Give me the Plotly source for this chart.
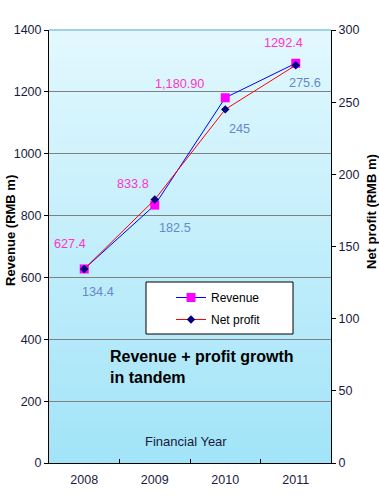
import plotly.graph_objects as go

years = ["2008", "2009", "2010", "2011"]
revenue = [627.4, 833.8, 1180.9, 1292.4]
net_profit = [134.4, 182.5, 245.0, 275.6]
revenue_labels = ["627.4", "833.8", "1,180.90", "1292.4"]
profit_labels = ["134.4", "182.5", "245", "275.6"]

# label offsets (pixels) relative to points - styling only
rev_dx = [-14, -22, -46, -12]
rev_dy = [25, 21, 14, 20]
np_dx = [14, 20, 14, 9]
np_dy = [-23, -28, -20, -18]

FONT = "Liberation Sans, Arial, sans-serif"
INK = "#1a1a40"

W, H = 379, 496
ML, MR, MT, MB = 49, 48, 30, 33

fig = go.Figure()

fig.add_trace(go.Scatter(
    x=years, y=revenue, name="Revenue", mode="lines+markers", legendgroup="a",
    line=dict(color="#0000ff", width=1),
    marker=dict(symbol="square", size=9, color="#ff00ff"),
    yaxis="y",
))
fig.add_trace(go.Scatter(
    x=years, y=net_profit, name="Net profit", mode="lines+markers", legendgroup="b",
    line=dict(color="#ff0000", width=1),
    marker=dict(symbol="diamond", size=6.5, color="#000080"),
    yaxis="y2",
))

shapes = []
# gradient plot background
top = (226, 248, 254)
bot = (162, 228, 248)
n = 60
for i in range(n):
    t = i / (n - 1)
    c = tuple(round(bot[k] + (top[k] - bot[k]) * t) for k in range(3))
    shapes.append(dict(type="rect", xref="x domain", yref="y domain",
                       x0=0, x1=1, y0=i / n, y1=(i + 1) / n + 0.002,
                       fillcolor="rgb(%d,%d,%d)" % c, line=dict(width=0),
                       layer="below"))
# top border of plot area
shapes.append(dict(type="line", xref="x domain", yref="y domain",
                   x0=0, x1=1, y0=1, y1=1,
                   line=dict(color="#5aaccc", width=1), layer="above"))
# legend box
shapes.append(dict(type="rect", xref="paper", yref="paper",
                   x0=97 / 282, x1=244 / 282, y0=129 / 433, y1=181 / 433,
                   fillcolor="white", line=dict(color="black", width=1),
                   layer="above"))

annotations = []
for i in range(len(years)):
    annotations.append(dict(x=i, y=revenue[i], xref="x", yref="y",
                            xanchor="center", yanchor="middle",
                            text=revenue_labels[i], showarrow=False,
                            xshift=rev_dx[i], yshift=rev_dy[i],
                            font=dict(family=FONT, size=12.7, color="#ff33cc")))
    annotations.append(dict(x=i, y=net_profit[i], xref="x", yref="y2",
                            xanchor="center", yanchor="middle",
                            text=profit_labels[i], showarrow=False,
                            xshift=np_dx[i], yshift=np_dy[i],
                            font=dict(family=FONT, size=12.7, color="#6688cc")))

annotations.append(dict(xref="paper", yref="paper", x=(10 - ML) / 282, y=(463 - 231) / 433,
                        xanchor="center", yanchor="middle",
                        text="<b>Revenue (RMB m)</b>", textangle=-90, showarrow=False,
                        font=dict(family=FONT, size=13, color="black")))
annotations.append(dict(xref="paper", yref="paper", x=(372 - ML) / 282, y=(463 - 212) / 433,
                        xanchor="center", yanchor="middle",
                        text="<b>Net profit (RMB m)</b>", textangle=-90, showarrow=False,
                        font=dict(family=FONT, size=13, color="black")))
annotations.append(dict(xref="paper", yref="paper", x=(108 - ML) / 282, y=(463 - 366.5) / 433,
                        xanchor="left", yanchor="middle", align="left",
                        text="<b>Revenue + profit growth<br>in tandem</b>", showarrow=False,
                        font=dict(family=FONT, size=16, color="black")))
annotations.append(dict(xref="paper", yref="paper", x=(185.5 - ML) / 282, y=(463 - 441) / 433,
                        xanchor="center", yanchor="middle",
                        text="Financial Year", showarrow=False,
                        font=dict(family=FONT, size=13, color=INK)))

fig.update_layout(
    width=W, height=H,
    margin=dict(l=ML, r=MR, t=MT, b=MB, pad=0, autoexpand=False),
    paper_bgcolor="white",
    plot_bgcolor="#c8f0fc",
    font=dict(family=FONT, size=12.5, color=INK),
    showlegend=True,
    legend=dict(x=(171 - ML) / 282, y=(463 - 283) / 433, xanchor="left", yanchor="top",
                bgcolor="rgba(0,0,0,0)", borderwidth=0,
                font=dict(family=FONT, size=12, color="black"),
                tracegroupgap=3, itemwidth=30),
    xaxis=dict(type="category", range=[-0.5, 3.5], showgrid=False, automargin=False,
               showline=True, linecolor="black", linewidth=1,
               ticks="inside", tickson="boundaries", ticklen=4, tickcolor="black",
               ticklabelstandoff=5,
               tickfont=dict(family=FONT, size=12.5, color=INK), fixedrange=True),
    yaxis=dict(range=[0, 1400], dtick=200, showgrid=True, gridcolor="#808080", gridwidth=1,
               zeroline=False, showline=True, linecolor="black", linewidth=1, automargin=False,
               ticks="outside", ticklen=4, tickcolor="black",
               tickfont=dict(family=FONT, size=12.5, color=INK)),
    yaxis2=dict(range=[0, 300], dtick=50, overlaying="y", side="right", showgrid=False,
                zeroline=False, showline=True, linecolor="black", linewidth=1, automargin=False,
                ticks="outside", ticklen=4, tickcolor="black",
                tickfont=dict(family=FONT, size=12.5, color=INK)),
    shapes=shapes,
    annotations=annotations,
)

fig.write_html("out.html", config={"displayModeBar": False},
               post_script="document.body.style.margin='0';document.body.style.overflow='hidden';")
